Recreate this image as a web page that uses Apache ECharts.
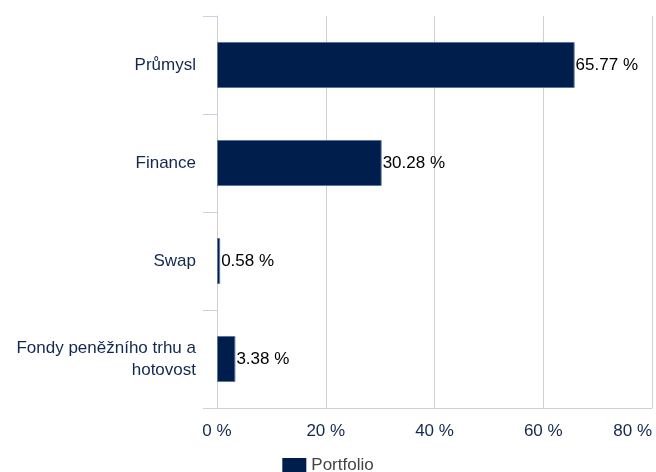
<!DOCTYPE html>
<html><head><meta charset="utf-8">
<script src="https://cdn.jsdelivr.net/npm/echarts@6/dist/echarts.min.js"></script>
<style>html,body{margin:0;padding:0;background:#fff}#c{width:656px;height:472px}</style>
</head><body><div id="c"></div>
<script>
const categories = ["Průmysl", "Finance", "Swap", "Fondy peněžního trhu a hotovost"];
const portfolio = [65.77, 30.28, 0.58, 3.38];
const xTicks = [0, 20, 40, 60, 80];
const seriesName = "Portfolio";

const chart = echarts.init(document.getElementById('c'));
chart.setOption({
  animation: false,
  textStyle: { fontFamily: 'Liberation Sans, Arial, sans-serif' },
  grid: { left: 217, right: 4, top: 16, bottom: 64, containLabel: false, outerBoundsMode: 'none' },
  legend: {
    data: [seriesName], top: 452, left: 'center', itemWidth: 24, itemHeight: 15, itemGap: 8,
    textStyle: { color: '#444', fontSize: 17 }, icon: 'rect',
    itemStyle: { borderWidth: 0 }
  },
  xAxis: {
    type: 'value', min: xTicks[0], max: xTicks[xTicks.length - 1], interval: 20,
    axisLine: { show: true, lineStyle: { color: '#d0d0d0' } },
    axisTick: { show: false },
    splitLine: { show: true, lineStyle: { color: '#d0d0d0' } },
    axisLabel: { color: '#13284f', fontSize: 17, margin: 15, formatter: v => v + ' %', alignMaxLabel: 'right' }
  },
  yAxis: {
    type: 'category', data: categories, inverse: true,
    axisLine: { show: true, lineStyle: { color: '#d0d0d0' } },
    axisTick: { show: true, length: 14, lineStyle: { color: '#c6d2e6' } },
    axisLabel: { color: '#13284f', fontSize: 17, margin: 21, lineHeight: 22, align: 'right',
      formatter: v => v.replace(' hotovost', '\nhotovost') }
  },
  series: [{
    name: seriesName, type: 'bar', data: portfolio, barWidth: '47%',
    itemStyle: { color: '#001e4c', borderColor: '#5a76a0', borderWidth: 1 },
    label: { show: true, position: 'right', distance: 1, color: '#000', fontSize: 17, formatter: p => p.value.toFixed(2) + ' %' }
  }]
});
</script></body></html>
